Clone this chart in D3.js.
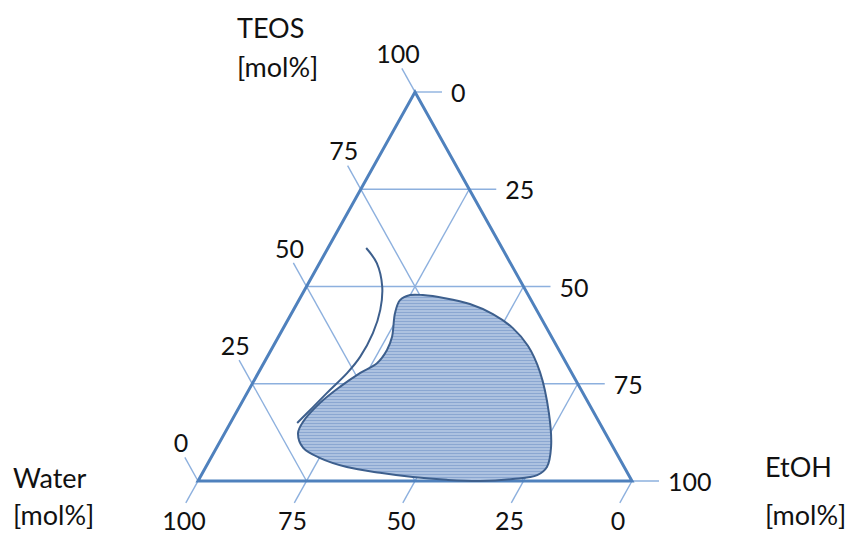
<!DOCTYPE html>
<html>
<head>
<meta charset="utf-8">
<script src="https://cdn.jsdelivr.net/npm/d3@7"></script>
<style>
  html, body { margin: 0; padding: 0; background: #ffffff; }
  svg { display: block; }
  text { font-family: Lato, "Open Sans", sans-serif; fill: #111; }
</style>
</head>
<body>
<svg id="chart" width="855" height="536"></svg>
<script>
// ---- data (ternary compositions in mol%) ----
const tickValues = [0, 25, 50, 75, 100];
const teosTickLabels = ["0", "25", "50", "75", "100"];      // left edge, bottom -> top
const etohTickLabels = ["0", "25", "50", "75", "100"];      // right edge, top -> bottom
const waterTickLabels = ["100", "75", "50", "25", "0"];     // bottom edge, left -> right
const axisTitles = ["TEOS", "Water", "EtOH"];
const unitLabel = "[mol%]";

// shaded region boundary
const regionTEOS  = [47.8, 47.8, 47.0, 45.5, 42.9, 39.3, 34.7, 28.0, 17.5, 8.7, 3.6, 1.5, 0.5, 0.0, 0.3, 1.0, 2.1, 3.6, 5.9, 8.5, 12.3, 15.2, 20.1, 24.2, 27.8, 30.3, 33.7, 37.0, 43.2, 46.5];
const regionEtOH  = [25.0, 27.9, 33.4, 39.9, 46.5, 52.9, 58.7, 64.8, 72.1, 77.0, 78.6, 77.4, 72.3, 65.0, 57.2, 49.0, 40.9, 32.5, 25.2, 20.0, 16.9, 16.6, 18.1, 20.6, 23.5, 26.1, 26.7, 26.2, 23.8, 23.3];
const regionWater = [27.2, 24.3, 19.6, 14.6, 10.6, 7.8, 6.6, 7.2, 10.4, 14.3, 17.8, 21.1, 27.2, 35.0, 42.5, 50.0, 57.0, 63.9, 68.9, 71.5, 70.8, 68.2, 61.8, 55.2, 48.7, 43.6, 39.6, 36.8, 33.0, 30.2];

// boundary curve
const curveTEOS  = [59.9, 56.0, 49.9, 44.0, 38.0, 31.9, 27.8, 23.4, 19.0, 14.9];
const curveEtOH  = [8.8, 13.2, 17.5, 20.0, 21.3, 21.4, 20.5, 18.7, 17.0, 15.4];
const curveWater = [31.3, 30.8, 32.6, 36.0, 40.7, 46.7, 51.7, 57.9, 64.0, 69.7];

// ---- layout ----
const svg = d3.select("#chart");
const xScale = d3.scaleLinear().domain([0, 100]).range([198, 632]); // horizontal position
const yScale = d3.scaleLinear().domain([0, 100]).range([481, 92]);  // TEOS height
function proj(teos, etoh) { return [xScale(etoh + teos / 2), yScale(teos)]; }

const edgeColor = "#4f81bd";
const gridColor = "#8db0de";
const markColor = "#3d5f8d";
const tickLen = 27;

// unit vectors along edges
const apex = proj(100, 0), bl = proj(0, 0), br = proj(0, 100);
const upLeft = (() => { const dx = apex[0] - br[0], dy = apex[1] - br[1]; const l = Math.hypot(dx, dy); return [dx / l, dy / l]; })();
const downLeft = (() => { const dx = bl[0] - apex[0], dy = bl[1] - apex[1]; const l = Math.hypot(dx, dy); return [dx / l, dy / l]; })();

// pattern for region fill
const defs = svg.append("defs");
const pat = defs.append("pattern").attr("id", "stripes").attr("patternUnits", "userSpaceOnUse")
  .attr("width", 6).attr("height", 3);
pat.append("rect").attr("width", 6).attr("height", 3).attr("fill", "#adc2e0");
pat.append("rect").attr("width", 6).attr("height", 1).attr("fill", "#8ba7d1");

const gridG = svg.append("g").attr("stroke", gridColor).attr("stroke-width", 1.4).attr("fill", "none");
const line = d3.line();

tickValues.forEach(k => {
  // horizontal lines: constant TEOS (= 100 - EtOH on right edge), extended right as EtOH ticks
  const pL = proj(k, 0), pR = proj(k, 100 - k);
  gridG.append("path").attr("d", line([pL, [pR[0] + tickLen, pR[1]]]));
  // constant Water lines: from left edge down to bottom, extended up-left as TEOS ticks
  const a = proj(k, 0), b = proj(0, k);
  gridG.append("path").attr("d", line([[a[0] + upLeft[0] * tickLen, a[1] + upLeft[1] * tickLen], b]));
  // constant EtOH lines: from right edge down to bottom, extended down-left as Water ticks
  const c = proj(100 - k, k), d = proj(0, k);
  gridG.append("path").attr("d", line([c, [d[0] + downLeft[0] * (tickLen - 2), d[1] + downLeft[1] * (tickLen - 2)]]));
});

// triangle frame
svg.append("path")
  .attr("d", line([bl, br, apex]) + "Z")
  .attr("fill", "none").attr("stroke", edgeColor).attr("stroke-width", 3).attr("stroke-linejoin", "miter");

// shaded region
const regionPts = regionTEOS.map((t, i) => proj(t, regionEtOH[i]));
svg.append("path")
  .attr("d", d3.line().curve(d3.curveCatmullRomClosed.alpha(0.5))(regionPts))
  .attr("fill", "url(#stripes)").attr("stroke", markColor).attr("stroke-width", 2);

// boundary curve
const curvePts = curveTEOS.map((t, i) => proj(t, curveEtOH[i]));
svg.append("path")
  .attr("d", d3.line().curve(d3.curveCatmullRom.alpha(0.5))(curvePts))
  .attr("fill", "none").attr("stroke", markColor).attr("stroke-width", 2);

// tick labels
const fs = 25;
const labG = svg.append("g").attr("font-size", fs);
tickValues.forEach((k, i) => {
  const pL = proj(k, 0);
  labG.append("text").attr("x", pL[0] - 17).attr("y", pL[1] - 39)
    .attr("text-anchor", "middle").attr("dominant-baseline", "central").text(teosTickLabels[i]);
  const pR = proj(100 - k, k);
  labG.append("text").attr("x", pR[0] + 36).attr("y", pR[1])
    .attr("text-anchor", "start").attr("dominant-baseline", "central").text(etohTickLabels[i]);
  const pB = proj(0, k);
  labG.append("text").attr("x", pB[0] - 14).attr("y", 520)
    .attr("text-anchor", "middle").attr("dominant-baseline", "central").text(waterTickLabels[i]);
});

// axis titles
const tG = svg.append("g").attr("font-size", 27);
function title(x, y1, y2, name) {
  tG.append("text").attr("x", x).attr("y", y1).text(name);
  tG.append("text").attr("x", x).attr("y", y2).text(unitLabel);
}
title(237, 38, 77, axisTitles[0]);
title(13, 488, 525, axisTitles[1]);
title(765, 477, 525, axisTitles[2]);
</script>
</body>
</html>
